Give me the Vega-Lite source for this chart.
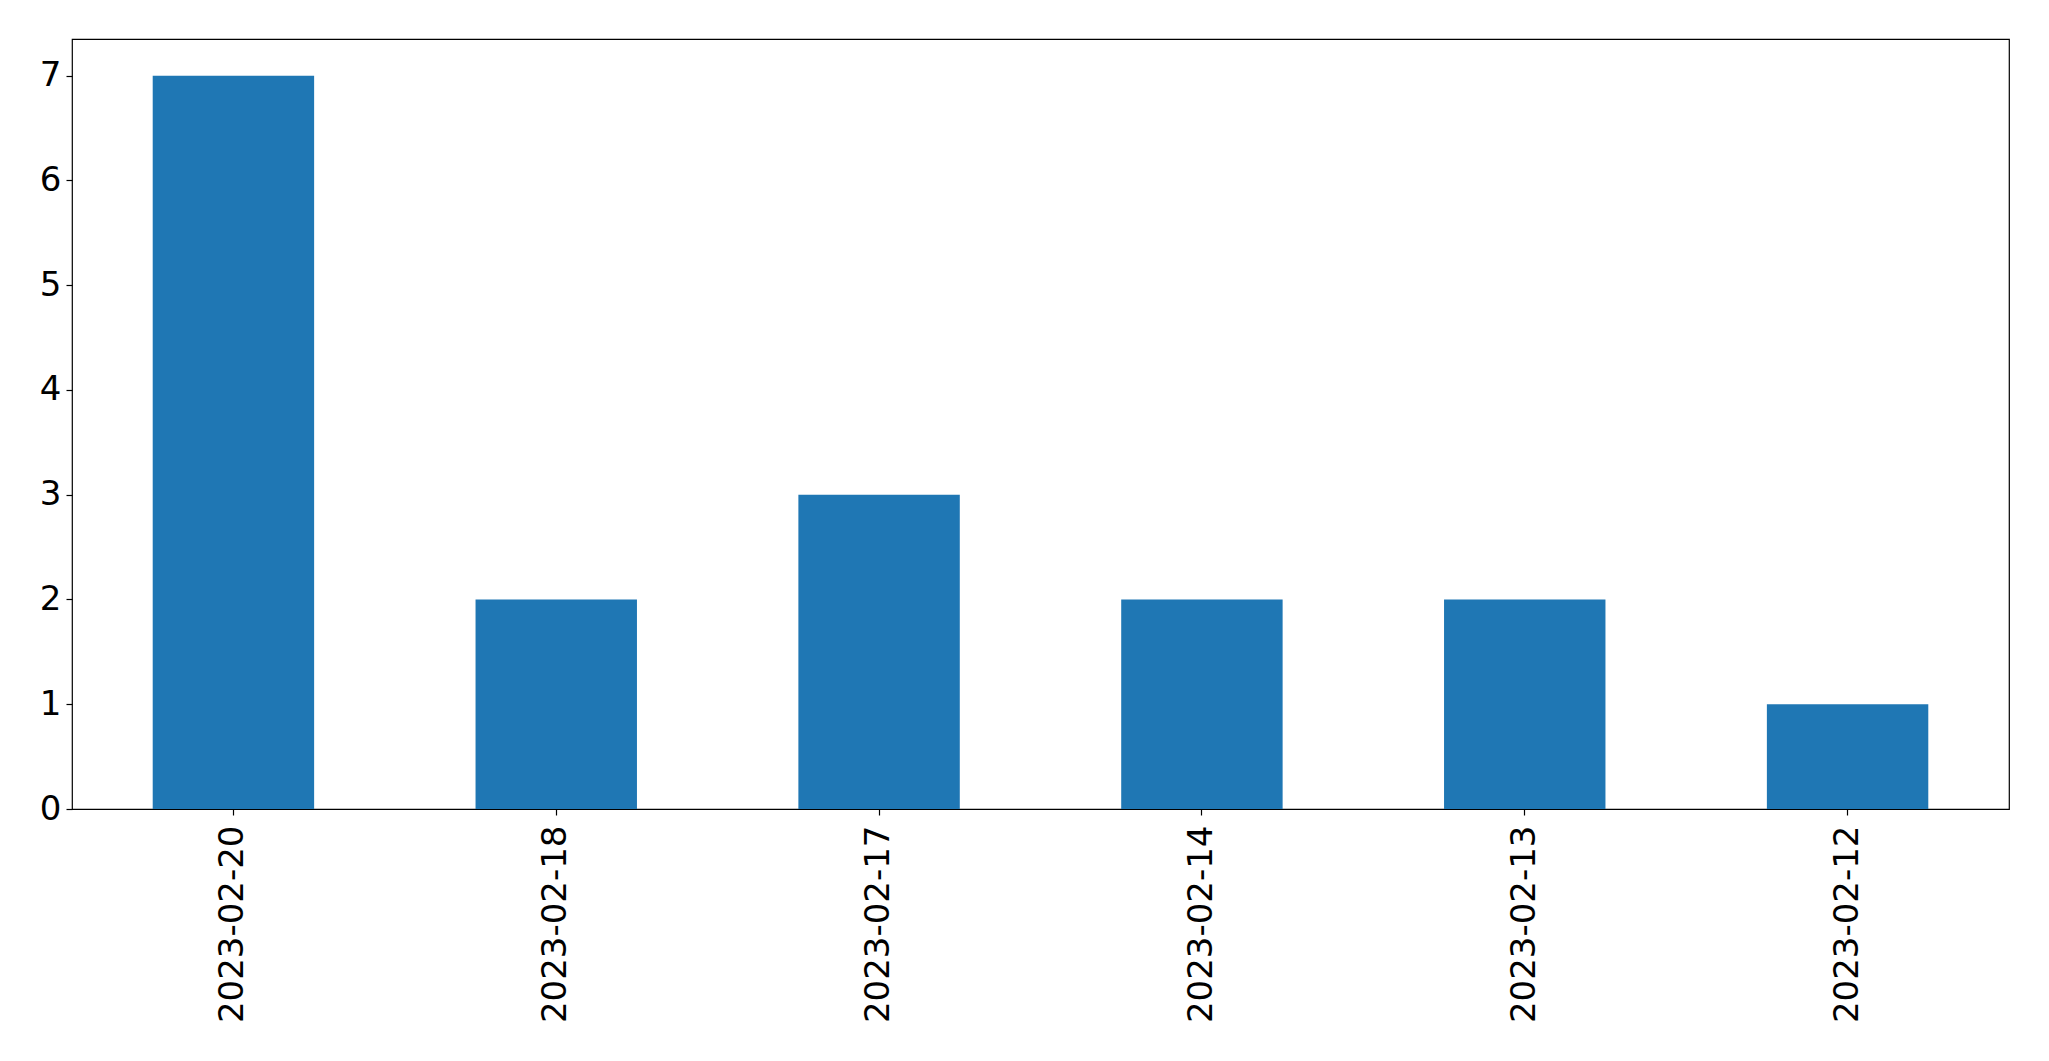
{
  "$schema": "https://vega.github.io/schema/vega-lite/v6.json",
  "autosize": {"type": "none"},
  "padding": {"left": 72, "top": 39, "right": 40, "bottom": 252},
  "width": 1937,
  "height": 770,
  "background": "white",
  "config": {
    "view": {"stroke": "black", "strokeWidth": 1.2},
    "font": "DejaVu Sans",
    "axis": {
      "labelFont": "DejaVu Sans",
      "labelFontSize": 34,
      "labelColor": "black",
      "labelLimit": 0,
      "tickColor": "black",
      "tickSize": 6,
      "tickWidth": 1.2,
      "domain": false,
      "grid": false,
      "title": null
    }
  },
  "data": {
    "values": [
      {"date": "2023-02-20", "count": 7},
      {"date": "2023-02-18", "count": 2},
      {"date": "2023-02-17", "count": 3},
      {"date": "2023-02-14", "count": 2},
      {"date": "2023-02-13", "count": 2},
      {"date": "2023-02-12", "count": 1}
    ]
  },
  "mark": {"type": "bar", "color": "#1f77b4"},
  "encoding": {
    "x": {
      "field": "date",
      "type": "nominal",
      "sort": null,
      "scale": {"paddingInner": 0.5, "paddingOuter": 0.25},
      "axis": {"labelAngle": -90, "labelPadding": 10}
    },
    "y": {
      "field": "count",
      "type": "quantitative",
      "scale": {"domain": [0, 7.35], "nice": false, "zero": true},
      "axis": {"values": [0, 1, 2, 3, 4, 5, 6, 7], "labelPadding": 5}
    }
  }
}
